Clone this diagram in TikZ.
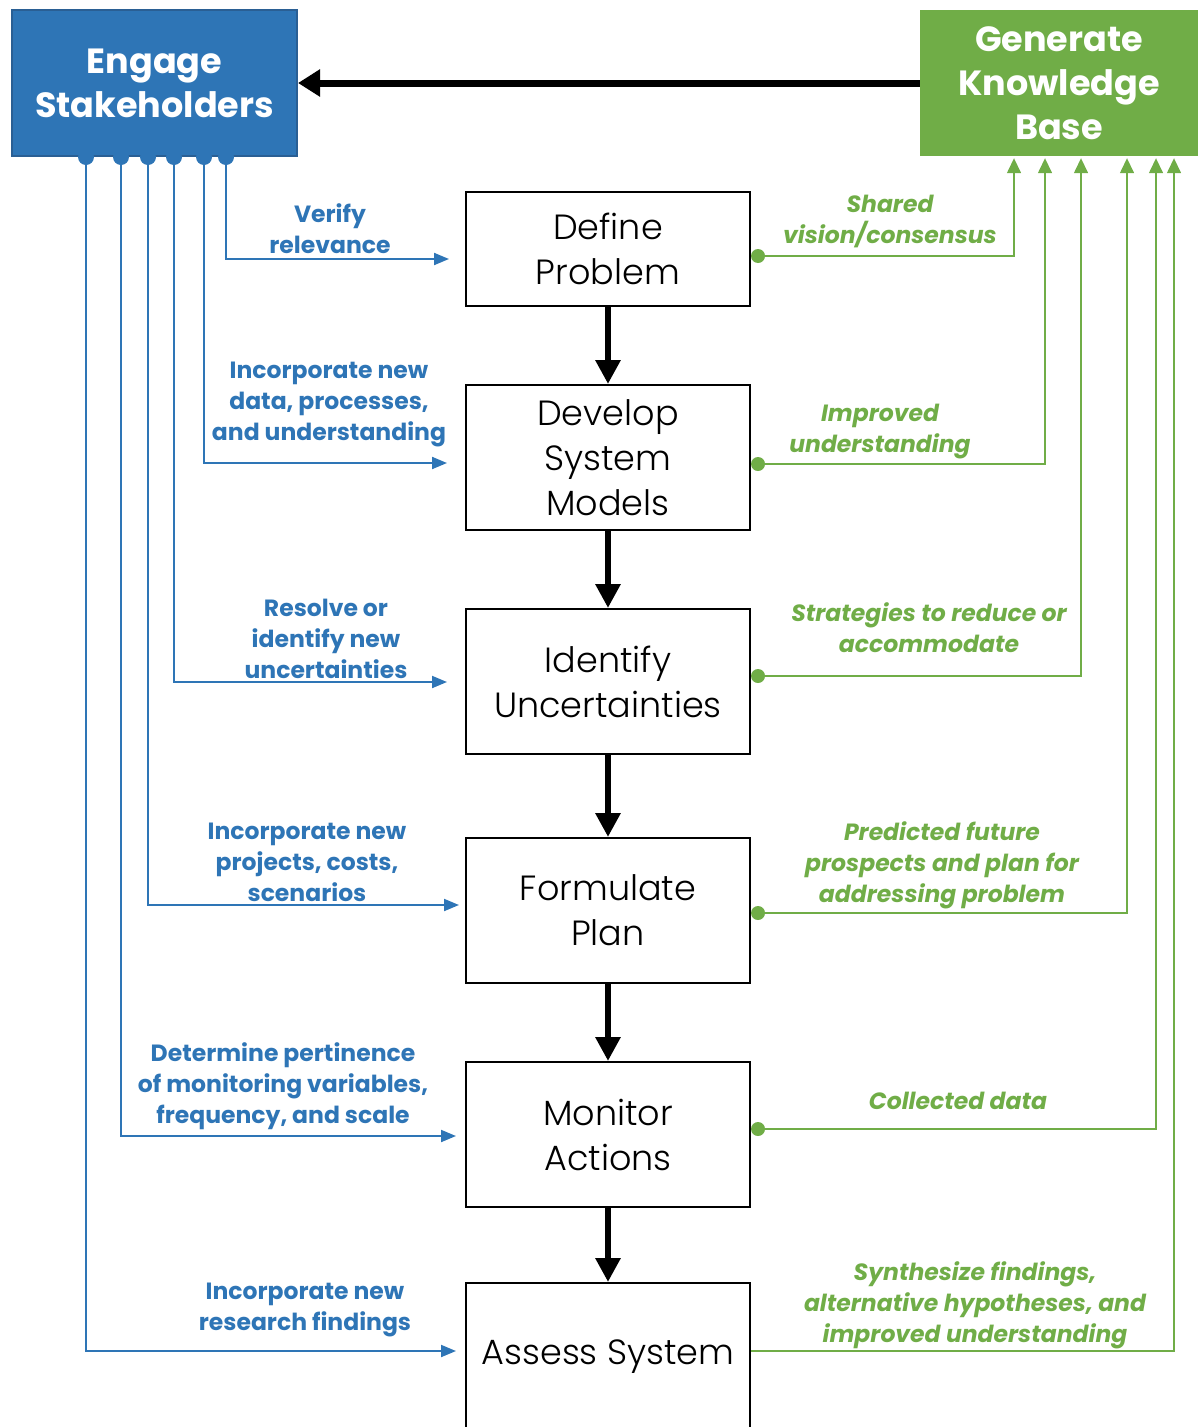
\documentclass[tikz,border=0pt]{standalone}
\usepackage{fontspec}
\setmainfont{Poppins}
\newfontfamily\boxfont{Poppins Light}
\usetikzlibrary{arrows.meta}
\definecolor{sblue}{HTML}{2E75B6}
\definecolor{sbluedark}{HTML}{2A5F94}
\definecolor{sgreen}{HTML}{70AD47}
\begin{document}
\begin{tikzpicture}[x=1pt,y=-1pt,
  stepbox/.style={draw=black,line width=2pt,fill=white,minimum width=284pt,minimum height=145pt,align=center,inner sep=0pt,font=\boxfont\fontsize{35}{45}\selectfont},
  bigbox/.style={align=center,inner sep=0pt,text=white,font=\bfseries\fontsize{35}{44}\selectfont,minimum height=146pt},
  bigarrow/.style={line width=6pt,-{Triangle[length=24pt,width=24pt]}},
  bline/.style={draw=sblue,line width=2pt,-{Triangle[length=15pt,width=12pt]}},
  gline/.style={draw=sgreen,line width=1.5pt,-{Triangle[length=15pt,width=14pt]}},
  blab/.style={align=center,text=sblue,font=\bfseries\fontsize{23.5}{31}\selectfont,inner sep=0pt},
  glab/.style={align=center,text=sgreen,font=\bfseries\itshape\fontsize{23.5}{31}\selectfont,inner sep=0pt},
  bdot/.style={fill=sblue},
  gdot/.style={fill=sgreen}]
\useasboundingbox (0,0) rectangle (1198,1427);

% top boxes
\node[bigbox,fill=sblue,draw=sbluedark,line width=2pt,minimum width=285pt] (eng) at (154.5,83) {Engage\\Stakeholders};
\node[bigbox,fill=sgreen,minimum width=278pt] (gen) at (1059,83) {Generate\\Knowledge\\Base};
\draw[line width=7pt,-{Triangle[length=22pt,width=26pt]}] (gen.west) -- (eng.east);

% central boxes
\node[stepbox,minimum height=114pt] (define) at (608,249) {Define\\Problem};
\node[stepbox] (develop) at (608,457.5) {Develop\\System\\Models};
\node[stepbox] (identify) at (608,681.5) {Identify\\Uncertainties};
\node[stepbox] (formulate) at (608,910.5) {Formulate\\Plan};
\node[stepbox] (monitor) at (608,1134.5) {Monitor\\Actions};
\node[stepbox,minimum height=167pt] (assess) at (608,1366.5) {};
\node[inner sep=0pt,font=\boxfont\fontsize{35}{45}\selectfont] (assesslbl) at (608,1357) {Assess System};

\draw[bigarrow] (define.south) -- (develop.north);
\draw[bigarrow] (develop.south) -- (identify.north);
\draw[bigarrow] (identify.south) -- (formulate.north);
\draw[bigarrow] (formulate.south) -- (monitor.north);
\draw[bigarrow] (monitor.south) -- (assess.north);

% blue connectors
\draw[bline] ([xshift=215pt]eng.south west) |- ([xshift=-16pt,yshift=-10pt]define.west);
\draw[bline] ([xshift=193pt]eng.south west) |- ([xshift=-18pt,yshift=-5.5pt]develop.west);
\draw[bline] ([xshift=163pt]eng.south west) |- ([xshift=-18pt,yshift=-0.5pt]identify.west);
\draw[bline] ([xshift=137pt]eng.south west) |- ([xshift=-6pt,yshift=5.5pt]formulate.west);
\draw[bline] ([xshift=110pt]eng.south west) |- ([xshift=-9pt,yshift=-1.5pt]monitor.west);
\draw[bline] ([xshift=75pt]eng.south west) |- ([xshift=-9pt,yshift=15.5pt]assess.west);
\foreach \dx in {75,110,137,163,193,215}
  \fill[bdot] ([xshift=\dx pt]eng.south west) circle (8pt);

% green connectors
\draw[gline] ([xshift=7pt,yshift=-7pt]define.east) -| ([xshift=-45pt,yshift=-2pt]gen.south);
\draw[gline] ([xshift=7pt,yshift=-6.5pt]develop.east) -| ([xshift=-14pt,yshift=-2pt]gen.south);
\draw[gline] ([xshift=7pt,yshift=5.5pt]identify.east) -| ([xshift=22pt,yshift=-2pt]gen.south);
\draw[gline] ([xshift=7pt,yshift=-2.5pt]formulate.east) -| ([xshift=68pt,yshift=-2pt]gen.south);
\draw[gline] ([xshift=7pt,yshift=5.5pt]monitor.east) -| ([xshift=97pt,yshift=-2pt]gen.south);
\draw[gline] ([yshift=15.5pt]assess.east) -| ([xshift=115pt,yshift=-2pt]gen.south);
\fill[gdot] ([xshift=7pt,yshift=-7pt]define.east) circle (7pt);
\fill[gdot] ([xshift=7pt,yshift=-6.5pt]develop.east) circle (7pt);
\fill[gdot] ([xshift=7pt,yshift=5.5pt]identify.east) circle (7pt);
\fill[gdot] ([xshift=7pt,yshift=-2.5pt]formulate.east) circle (7pt);
\fill[gdot] ([xshift=7pt,yshift=5.5pt]monitor.east) circle (7pt);

% blue labels
\node[blab] (b1) at (330,228.5) {Verify\\relevance};
\node[blab] (b2) at (329,404.5) {Incorporate new\\data, processes,\\and understanding};
\node[blab] (b3) at (326,638.5) {Resolve or\\identify new\\uncertainties};
\node[blab] (b4) at (307,862.5) {Incorporate new\\projects, costs,\\scenarios};
\node[blab] (b5) at (283,1086.5) {Determine pertinence\\of monitoring variables,\\frequency, and scale};
\node[blab] (b6) at (305,1309.5) {Incorporate new\\research findings};

% green labels
\node[glab] (g1) at (890,221) {Shared\\vision/consensus};
\node[glab] (g2) at (880,431.5) {Improved\\understanding};
\node[glab] (g3) at (929,627.5) {Strategies to reduce or\\accommodate};
\node[glab] (g4) at (942,865.5) {Predicted future\\prospects and plan for\\addressing problem};
\node[glab] (g5) at (958,1101) {Collected data};
\node[glab] (g6) at (975,1305.5) {Synthesize findings,\\alternative hypotheses, and\\improved understanding};
\end{tikzpicture}
\end{document}
